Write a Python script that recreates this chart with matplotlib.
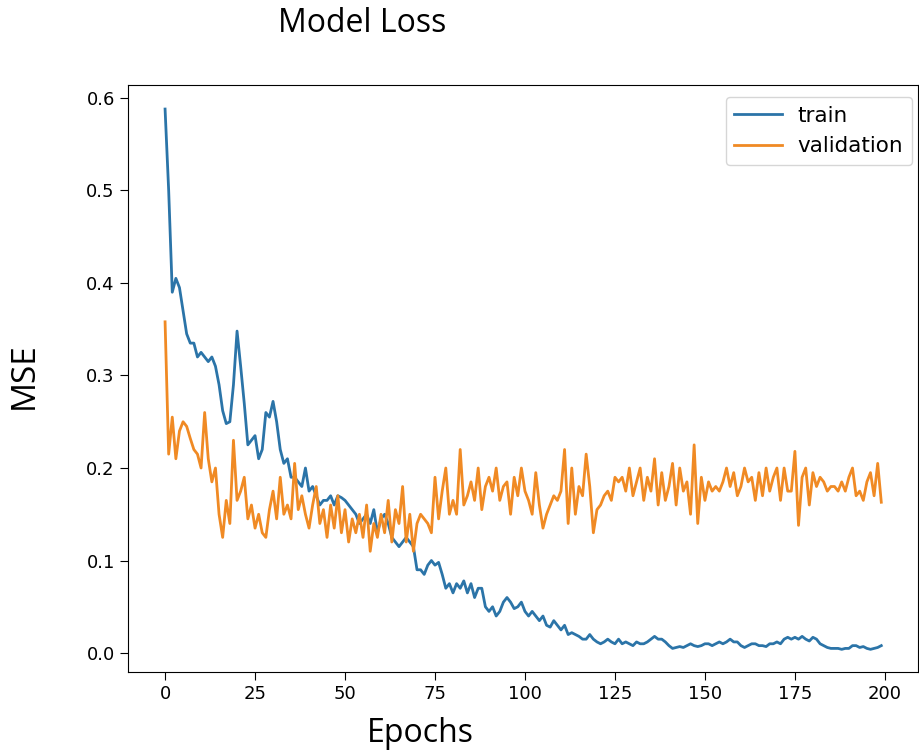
import matplotlib
matplotlib.use("Agg")
import matplotlib.pyplot as plt
import numpy as np

train = [
0.588, 0.50, 0.39, 0.405, 0.395, 0.37, 0.345, 0.335, 0.335, 0.32,
0.325, 0.32, 0.315, 0.32, 0.31, 0.29, 0.262, 0.248, 0.25, 0.29,
0.348, 0.31, 0.27, 0.225, 0.23, 0.235, 0.21, 0.22, 0.26, 0.255,
0.272, 0.25, 0.22, 0.205, 0.21, 0.19, 0.19, 0.185, 0.18, 0.2,
0.175, 0.18, 0.17, 0.16, 0.165, 0.165, 0.17, 0.16, 0.17, 0.168,
0.165, 0.16, 0.155, 0.15, 0.14, 0.145, 0.15, 0.14, 0.155, 0.13,
0.145, 0.15, 0.14, 0.125, 0.12, 0.115, 0.12, 0.125, 0.12, 0.115,
0.09, 0.09, 0.085, 0.095, 0.1, 0.095, 0.098, 0.085, 0.07, 0.075,
0.065, 0.075, 0.07, 0.078, 0.065, 0.075, 0.06, 0.07, 0.07, 0.05,
0.045, 0.05, 0.04, 0.045, 0.055, 0.06, 0.055, 0.048, 0.05, 0.055,
0.045, 0.04, 0.045, 0.04, 0.035, 0.04, 0.03, 0.028, 0.035, 0.03,
0.025, 0.03, 0.02, 0.022, 0.02, 0.018, 0.015, 0.015, 0.02, 0.015,
0.012, 0.01, 0.012, 0.015, 0.012, 0.01, 0.015, 0.01, 0.012, 0.01,
0.008, 0.012, 0.01, 0.01, 0.012, 0.015, 0.018, 0.015, 0.015, 0.012,
0.008, 0.005, 0.006, 0.007, 0.006, 0.008, 0.01, 0.008, 0.007, 0.008,
0.01, 0.01, 0.008, 0.01, 0.012, 0.01, 0.012, 0.015, 0.012, 0.012,
0.008, 0.006, 0.008, 0.01, 0.01, 0.008, 0.008, 0.007, 0.01, 0.01,
0.012, 0.01, 0.015, 0.017, 0.015, 0.017, 0.015, 0.018, 0.015, 0.013,
0.017, 0.015, 0.01, 0.008, 0.006, 0.005, 0.005, 0.005, 0.004, 0.005,
0.005, 0.008, 0.008, 0.006, 0.007, 0.005, 0.004, 0.005, 0.006, 0.008,
]

validation = [
0.358, 0.215, 0.255, 0.21, 0.24, 0.25, 0.245, 0.232, 0.22, 0.215,
0.2, 0.26, 0.21, 0.185, 0.2, 0.15, 0.125, 0.165, 0.14, 0.23,
0.165, 0.175, 0.19, 0.145, 0.16, 0.135, 0.15, 0.13, 0.125, 0.155,
0.175, 0.145, 0.19, 0.15, 0.16, 0.145, 0.205, 0.155, 0.17, 0.15,
0.135, 0.16, 0.18, 0.14, 0.155, 0.125, 0.16, 0.135, 0.17, 0.13,
0.155, 0.12, 0.145, 0.13, 0.15, 0.125, 0.16, 0.11, 0.14, 0.125,
0.15, 0.13, 0.165, 0.12, 0.155, 0.14, 0.18, 0.12, 0.15, 0.11,
0.14, 0.15, 0.145, 0.14, 0.13, 0.19, 0.145, 0.175, 0.2, 0.15,
0.165, 0.15, 0.22, 0.16, 0.17, 0.185, 0.165, 0.2, 0.155, 0.18,
0.19, 0.175, 0.2, 0.165, 0.18, 0.185, 0.15, 0.19, 0.17, 0.2,
0.175, 0.165, 0.15, 0.195, 0.16, 0.135, 0.15, 0.16, 0.17, 0.165,
0.175, 0.22, 0.14, 0.2, 0.15, 0.18, 0.17, 0.215, 0.18, 0.13,
0.155, 0.16, 0.17, 0.175, 0.165, 0.19, 0.185, 0.19, 0.175, 0.2,
0.17, 0.185, 0.2, 0.165, 0.19, 0.175, 0.21, 0.16, 0.195, 0.165,
0.18, 0.205, 0.16, 0.2, 0.175, 0.185, 0.15, 0.225, 0.14, 0.19,
0.165, 0.185, 0.175, 0.18, 0.175, 0.185, 0.2, 0.18, 0.195, 0.17,
0.18, 0.2, 0.185, 0.19, 0.165, 0.195, 0.17, 0.2, 0.175, 0.19,
0.2, 0.165, 0.2, 0.175, 0.175, 0.218, 0.138, 0.19, 0.2, 0.16,
0.195, 0.18, 0.19, 0.185, 0.175, 0.18, 0.18, 0.175, 0.185, 0.175,
0.19, 0.2, 0.17, 0.175, 0.165, 0.185, 0.195, 0.17, 0.205, 0.163,
]

epochs = np.arange(len(train))

fig = plt.figure(figsize=(9.2, 7.56), dpi=100)
ax = fig.add_axes([128/920, 1-672/756, 790/920, 587/756])
ax.plot(epochs, train, color="#2b74a8", lw=2.0, label="train")
ax.plot(epochs, validation, color="#f08a24", lw=2.0, label="validation")
ax.set_xlim(-10.3, 209.2)
ax.set_ylim(-0.0205, 0.614)
ax.set_xticks([0, 25, 50, 75, 100, 125, 150, 175, 200])
ax.set_yticks([0.0, 0.1, 0.2, 0.3, 0.4, 0.5, 0.6])
ax.tick_params(labelsize=13, length=6)
ax.legend(loc="upper right", bbox_to_anchor=(0.9924, 0.9796), borderaxespad=0,
          fontsize=15.5, frameon=True, handlelength=2.2, labelspacing=0.5,
          borderpad=0.4, handletextpad=0.75)

fig.text(362/920, 1-23/756, "Model Loss", ha="center", va="center",
         fontsize=23, family="Open Sans")
fig.text(24/920, 1-376/756, "MSE", ha="center", va="center", rotation=90,
         fontsize=24, family="Open Sans")
fig.text(420/920, 1-733/756, "Epochs", ha="center", va="center",
         fontsize=23, family="Open Sans")

fig.savefig("out.png", dpi=100)
